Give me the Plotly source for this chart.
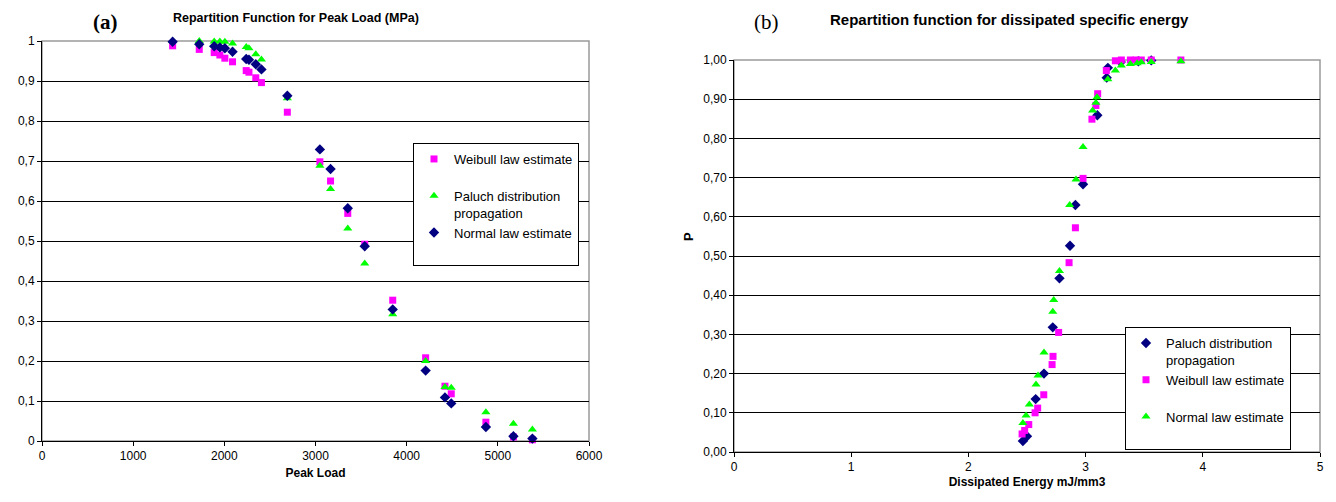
import plotly.graph_objects as go

# page body has an 8px margin; figure sized to fit the window
OFF = 8
W, H = 1336 - OFF, 502 - OFF

# ---------------- Panel (a): Peak load ----------------
peak_load = [1433, 1725, 1889, 1951, 2006, 2090, 2240, 2270, 2345, 2407, 2691,
             3048, 3165, 3354, 3540, 3847, 4208, 4420, 4489, 4869, 5171, 5379]
a_weibull = [0.988, 0.979, 0.971, 0.965, 0.957, 0.948, 0.926, 0.922, 0.908, 0.896, 0.822,
             0.698, 0.650, 0.569, 0.492, 0.352, 0.208, 0.137, 0.118, 0.047, 0.010, 0.003]
a_paluch = [1.000, 1.000, 0.999, 0.999, 0.998, 0.994, 0.985, 0.982, 0.967, 0.954, 0.857,
            0.688, 0.630, 0.531, 0.444, 0.317, 0.200, 0.135, 0.133, 0.072, 0.043, 0.029]
a_normal = [0.998, 0.992, 0.987, 0.984, 0.982, 0.973, 0.955, 0.953, 0.942, 0.929, 0.863,
            0.729, 0.680, 0.582, 0.487, 0.329, 0.176, 0.109, 0.094, 0.035, 0.012, 0.006]

a_xticks = [0, 1000, 2000, 3000, 4000, 5000, 6000]
a_yticks = [0, 0.1, 0.2, 0.3, 0.4, 0.5, 0.6, 0.7, 0.8, 0.9, 1]
a_ytext = ["0", "0,1", "0,2", "0,3", "0,4", "0,5", "0,6", "0,7", "0,8", "0,9", "1"]

# ---------------- Panel (b): Dissipated energy ----------------
b_paluch_x = [2.465, 2.500, 2.574, 2.645, 2.720, 2.777, 2.867, 2.913, 2.978, 3.100,
              3.180, 3.190, 3.300, 3.450, 3.560]
b_paluch_y = [0.028, 0.040, 0.135, 0.200, 0.318, 0.443, 0.526, 0.630, 0.683, 0.859,
              0.955, 0.980, 0.995, 0.997, 0.999]
b_weibull_x = [2.458, 2.480, 2.515, 2.569, 2.591, 2.643, 2.714, 2.722, 2.770, 2.859,
               2.913, 2.978, 3.054, 3.088, 3.103, 3.177, 3.254, 3.305, 3.382, 3.430,
               3.475, 3.560, 3.813]
b_weibull_y = [0.046, 0.055, 0.070, 0.100, 0.112, 0.146, 0.223, 0.244, 0.305, 0.483,
               0.572, 0.698, 0.849, 0.884, 0.914, 0.973, 0.998, 1.000, 1.000, 1.000,
               1.000, 1.000, 1.000]
b_normal_x = [2.465, 2.492, 2.520, 2.577, 2.594, 2.645, 2.720, 2.728, 2.777, 2.864,
              2.918, 2.978, 3.060, 3.088, 3.097, 3.190, 3.254, 3.305, 3.382, 3.440,
              3.475, 3.560, 3.813]
b_normal_y = [0.074, 0.093, 0.121, 0.172, 0.195, 0.254, 0.358, 0.388, 0.462, 0.630,
              0.695, 0.778, 0.871, 0.891, 0.905, 0.951, 0.973, 0.986, 0.990, 0.992,
              0.994, 0.995, 0.997]

b_xticks = [0, 1, 2, 3, 4, 5]
b_yticks = [0, 0.1, 0.2, 0.3, 0.4, 0.5, 0.6, 0.7, 0.8, 0.9, 1.0]
b_ytext = ["0,00", "0,10", "0,20", "0,30", "0,40", "0,50", "0,60", "0,70", "0,80", "0,90", "1,00"]

MAGENTA = "#FF00FF"
GREEN = "#00FF00"
NAVY = "#000080"
FONT = "Liberation Sans, Arial, sans-serif"
SERIF = "Liberation Serif, Times New Roman, serif"

# pixel boxes of plot areas (screen coordinates)
A_BOX = (42, 589, 41, 441)     # x0, x1, ytop, ybottom
B_BOX = (734, 1320, 60, 452)


def px(x):
    return (x - OFF) / W


def py(y):
    return 1 - (y - OFF) / H


def xdom(b):
    return [px(b[0]), px(b[1])]


def ydom(b):
    return [py(b[3]), py(b[2])]


fig = go.Figure()

SQ, TRI, DIA = 7, 8, 8
fig.add_trace(go.Scatter(x=peak_load, y=a_weibull, mode="markers", name="Weibull law estimate<br> ",
                         marker=dict(symbol="square", color=MAGENTA, size=SQ),
                         xaxis="x", yaxis="y", legend="legend", cliponaxis=False))
fig.add_trace(go.Scatter(x=peak_load, y=a_paluch, mode="markers", name="Paluch distribution<br>propagation",
                         marker=dict(symbol="triangle-up", color=GREEN, size=TRI),
                         xaxis="x", yaxis="y", legend="legend", cliponaxis=False))
fig.add_trace(go.Scatter(x=peak_load, y=a_normal, mode="markers", name="Normal law estimate<br> ",
                         marker=dict(symbol="diamond", color=NAVY, size=DIA),
                         xaxis="x", yaxis="y", legend="legend", cliponaxis=False))

fig.add_trace(go.Scatter(x=b_paluch_x, y=b_paluch_y, mode="markers", name="Paluch distribution<br>propagation",
                         marker=dict(symbol="diamond", color=NAVY, size=DIA),
                         xaxis="x2", yaxis="y2", legend="legend2", cliponaxis=False))
fig.add_trace(go.Scatter(x=b_weibull_x, y=b_weibull_y, mode="markers", name="Weibull law estimate<br> ",
                         marker=dict(symbol="square", color=MAGENTA, size=SQ),
                         xaxis="x2", yaxis="y2", legend="legend2", cliponaxis=False))
fig.add_trace(go.Scatter(x=b_normal_x, y=b_normal_y, mode="markers", name="Normal law estimate<br> ",
                         marker=dict(symbol="triangle-up", color=GREEN, size=TRI),
                         xaxis="x2", yaxis="y2", legend="legend2", cliponaxis=False))

axis_common = dict(showline=True, linecolor="black", linewidth=1, ticks="outside", ticklen=4,
                   tickcolor="black", tickfont=dict(family=FONT, size=12, color="black"),
                   zeroline=False, fixedrange=True, automargin=False)

fig.update_layout(
    width=W, height=H,
    margin=dict(l=0, r=0, t=0, b=0),
    paper_bgcolor="white", plot_bgcolor="white",
    font=dict(family=FONT, size=12, color="black"),
    xaxis=dict(domain=xdom(A_BOX), range=[0, 6000], tickvals=a_xticks, showgrid=False,
               anchor="y", title=dict(text="<b>Peak Load</b>", font=dict(size=12), standoff=6),
               **axis_common),
    yaxis=dict(domain=ydom(A_BOX), range=[0, 1], tickvals=a_yticks, ticktext=a_ytext,
               showgrid=True, gridcolor="black", gridwidth=1, anchor="x", **axis_common),
    xaxis2=dict(domain=xdom(B_BOX), range=[0, 5], tickvals=b_xticks, showgrid=False,
                anchor="y2", title=dict(text="<b>Dissipated Energy mJ/mm3</b>", font=dict(size=12), standoff=4),
                **axis_common),
    yaxis2=dict(domain=ydom(B_BOX), range=[0, 1], tickvals=b_yticks, ticktext=b_ytext,
                showgrid=True, gridcolor="black", gridwidth=1, anchor="x2", **axis_common),
    legend=dict(x=px(413), y=py(143), xanchor="left", yanchor="top",
                bgcolor="white", bordercolor="black", borderwidth=1,
                font=dict(family=FONT, size=13, color="black"), valign="top",
                tracegroupgap=0, itemclick=False, itemdoubleclick=False),
    legend2=dict(x=px(1125), y=py(327), xanchor="left", yanchor="top",
                 bgcolor="white", bordercolor="black", borderwidth=1,
                 font=dict(family=FONT, size=13, color="black"), valign="top",
                 tracegroupgap=0, itemclick=False, itemdoubleclick=False),
    showlegend=True,
)

# gray plot-area frames (top & right edges), between gridlines and markers
for b in (A_BOX, B_BOX):
    fig.add_shape(type="rect", xref="paper", yref="paper",
                  x0=px(b[0]), x1=px(b[1]), y0=py(b[3]), y1=py(b[2]),
                  line=dict(color="#9a9a9a", width=1.5), layer="between")

annotations = [
    dict(text="<b>(a)</b>", x=px(105), y=1.0, yanchor="top", font=dict(family=SERIF, size=21)),
    dict(text="<b>Repartition Function for Peak Load (MPa)</b>", x=px(296), y=py(18),
         yanchor="middle", font=dict(family=FONT, size=12.5)),
    dict(text="(b)", x=px(766), y=1.0, yanchor="top", font=dict(family=SERIF, size=21)),
    dict(text="<b>Repartition function for dissipated specific energy</b>", x=px(1010), y=py(19),
         yanchor="middle", font=dict(family=FONT, size=15)),
    dict(text="<b>P</b>", x=px(688), y=py(237), yanchor="middle", textangle=-90,
         font=dict(family=FONT, size=13)),
]
for a in annotations:
    fig.add_annotation(xref="paper", yref="paper", showarrow=False, xanchor="center", **a)

fig.write_html("out.html")
